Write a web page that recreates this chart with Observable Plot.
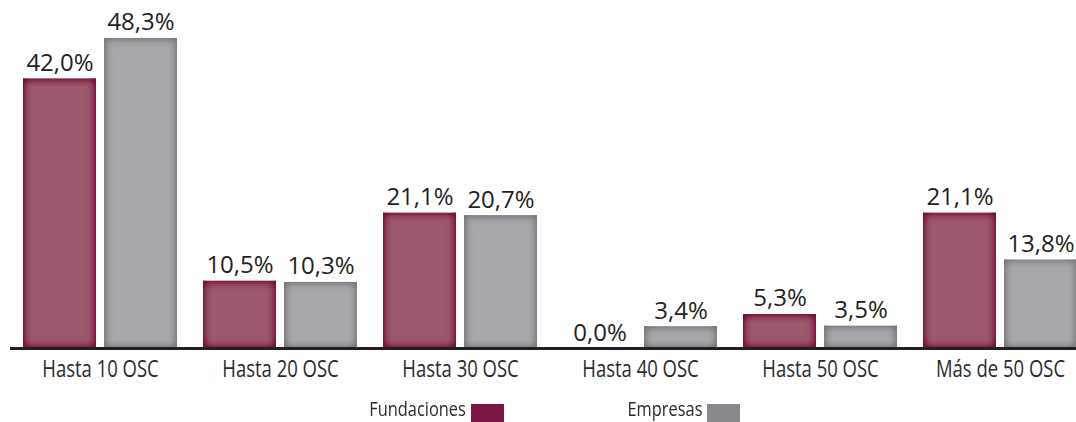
<!DOCTYPE html>
<html><head><meta charset="utf-8">
<script src="https://cdn.jsdelivr.net/npm/d3@7"></script>
<script src="https://cdn.jsdelivr.net/npm/@observablehq/plot@0.6"></script>
<style>
body{margin:0;background:#fff;}
#wrap{position:relative;width:1076px;height:422px;overflow:hidden;}
.legtext{position:absolute;top:397px;font-family:"Open Sans",sans-serif;font-size:20px;line-height:24px;color:#2b2b2b;white-space:nowrap;}
.legtext span{display:inline-block;transform:scaleX(0.82);transform-origin:right center;}
.sw{position:absolute;top:404px;width:33px;height:18px;}
</style></head><body>
<div id="wrap"><div id="chart"></div></div>
<script>
const categories = ["Hasta 10 OSC", "Hasta 20 OSC", "Hasta 30 OSC", "Hasta 40 OSC", "Hasta 50 OSC", "Más de 50 OSC"];
const seriesNames = ["Fundaciones", "Empresas"];
const fundaciones = [42.0, 10.5, 21.1, 0.0, 5.3, 21.1];
const empresas = [48.3, 10.3, 20.7, 3.4, 3.5, 13.8];

const seriesStyle = {
  Fundaciones: {base: "#9d5a6e", edge: "#78123f", swatch: "#7b1646"},
  Empresas: {base: "#a8a9ac", edge: "#7c7d81", swatch: "#87888c"}
};
const fmt = v => v.toFixed(1).replace(".", ",") + "%";
const fundData = categories.map((c, i) => ({category: c, value: fundaciones[i]}));
const empData = categories.map((c, i) => ({category: c, value: empresas[i]}));

const chart = Plot.plot({
  width: 1076,
  height: 392,
  marginTop: 27,
  marginBottom: 44,
  marginLeft: 10,
  marginRight: 0,
  style: {fontFamily: "Open Sans, sans-serif", fontSize: "24px", color: "#2b2b2b", background: "#fff"},
  x: {type: "band", domain: categories, range: [10, 1090], padding: 0, tickSize: 0, tickPadding: 11, label: null},
  y: {domain: [0, 50], axis: null},
  marks: [
    Plot.barY(fundData, {x: "category", y: "value", fill: seriesStyle.Fundaciones.base, insetLeft: 13, insetRight: 94}),
    Plot.barY(empData, {x: "category", y: "value", fill: seriesStyle.Empresas.base, insetLeft: 94, insetRight: 13}),
    Plot.ruleY([0], {stroke: "#231f20", strokeWidth: 3}),
    Plot.text(fundData, {x: "category", y: "value", text: d => fmt(d.value), dx: -40.5, lineAnchor: "bottom", dy: -8, fontSize: 24, fill: "#231f20"}),
    Plot.text(empData, {x: "category", y: "value", text: d => fmt(d.value), dx: 40.5, lineAnchor: "bottom", dy: -8, fontSize: 24, fill: "#231f20"})
  ]
});

document.getElementById("chart").append(chart);

// inner-glow filters for the bars
const defs = d3.select(chart).insert("defs", ":first-child");
seriesNames.forEach((s, i) => {
  defs.append("filter").attr("id", "glow" + i).attr("color-interpolation-filters", "sRGB")
    .html(`<feGaussianBlur in="SourceAlpha" stdDeviation="5" result="b"/>
      <feComposite in="SourceAlpha" in2="b" operator="arithmetic" k2="1.9" k3="-1.9" result="e"/>
      <feFlood flood-color="${seriesStyle[s].edge}" result="c"/>
      <feComposite in="c" in2="e" operator="in" result="sh"/>
      <feMerge><feMergeNode in="SourceGraphic"/><feMergeNode in="sh"/></feMerge>`);
});
chart.querySelectorAll('g[aria-label="bar"]').forEach((g, i) => g.setAttribute("filter", `url(#glow${i})`));

// condensed category labels
chart.querySelectorAll("text").forEach(t => {
  if (categories.includes(t.textContent)) {
    const L = t.getComputedTextLength();
    t.setAttribute("textLength", L * 0.77);
    t.setAttribute("lengthAdjust", "spacingAndGlyphs");
  }
});

// legend below the chart
const wrap = document.getElementById("wrap");
const legendLayout = [{name: "Fundaciones", textRight: 466, swatchLeft: 471}, {name: "Empresas", textRight: 702, swatchLeft: 707}];
legendLayout.forEach(l => {
  const t = document.createElement("div");
  t.className = "legtext";
  t.style.right = (1076 - l.textRight) + "px";
  t.innerHTML = `<span>${l.name}</span>`;
  wrap.append(t);
  const sw = document.createElement("div");
  sw.className = "sw";
  sw.style.left = l.swatchLeft + "px";
  sw.style.background = seriesStyle[l.name].swatch;
  wrap.append(sw);
});
</script>
</body></html>
